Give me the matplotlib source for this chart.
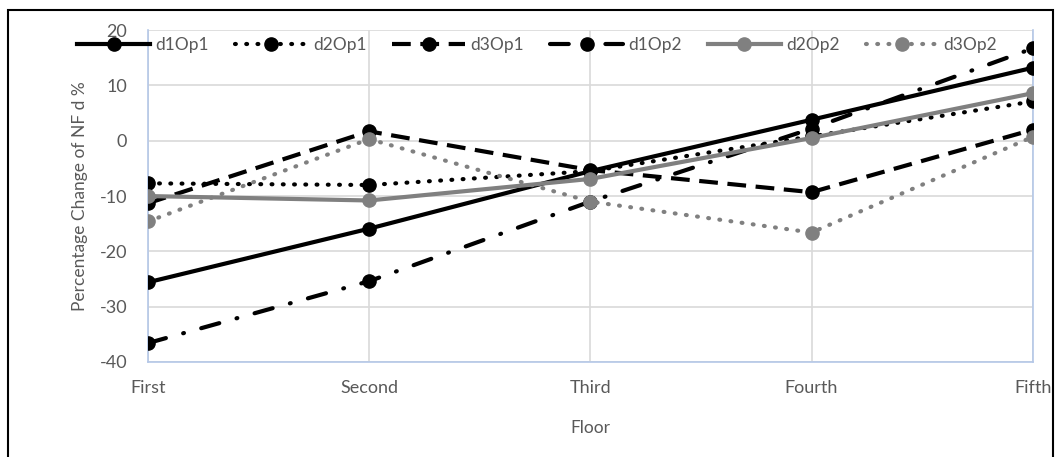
import matplotlib.pyplot as plt
from matplotlib.patches import Rectangle

plt.rcParams['font.family'] = ['Lato', 'DejaVu Sans']
plt.rcParams['axes.unicode_minus'] = False

floors = ['First', 'Second', 'Third', 'Fourth', 'Fifth']
d1Op1 = [-25.6, -15.9, -5.5, 3.8, 13.2]
d2Op1 = [-7.7, -8.0, -5.5, 0.8, 7.1]
d3Op1 = [-11.3, 1.7, -5.3, -9.3, 2.0]
d1Op2 = [-36.6, -25.4, -11.0, 2.2, 16.7]
d2Op2 = [-10.0, -10.8, -6.9, 0.5, 8.6]
d3Op2 = [-14.6, 0.3, -11.0, -16.6, 0.7]

txt = '#595959'
grey = '#808080'

fig = plt.figure(figsize=(10.56, 4.57), dpi=100)
ax = fig.add_axes([0.140, 0.208, 0.838, 0.726])

x = range(len(floors))
ms = 9.5
lw = 3.0
dots = (0, (0.2, 2.5))
ax.plot(x, d1Op1, color='black', lw=lw, ls='-', marker='o', ms=ms, label='d1Op1', zorder=3)
ax.plot(x, d2Op1, color='black', lw=lw, ls=dots, dash_capstyle='round',
        marker='o', ms=ms, label='d2Op1', zorder=3)
ax.plot(x, d3Op1, color='black', lw=lw, ls=(0, (4.5, 2.3)), marker='o', ms=ms, label='d3Op1', zorder=3)
ax.plot(x, d1Op2, color='black', lw=lw, ls=(0, (4.5, 4.3, 0.2, 4.3)), dash_capstyle='round',
        marker='o', ms=ms, label='d1Op2', zorder=3)
ax.plot(x, d2Op2, color=grey, lw=lw, ls='-', marker='o', ms=ms, label='d2Op2', zorder=3)
ax.plot(x, d3Op2, color=grey, lw=lw, ls=dots, dash_capstyle='round',
        marker='o', ms=ms, label='d3Op2', zorder=3)

ax.set_xlim(0, 4)
ax.set_ylim(-40, 20)
ax.set_yticks(range(-40, 21, 10))
ax.set_xticks(list(x))
ax.set_xticklabels(floors)
ax.grid(True, color='#d9d9d9', lw=1.2)
ax.set_axisbelow(True)
ax.tick_params(length=0, labelsize=13, colors=txt)
ax.tick_params(axis='x', pad=13)
ax.tick_params(axis='y', pad=15)
ax.spines['top'].set_visible(False)
for s in ['left', 'bottom', 'right']:
    ax.spines[s].set_color('#b4c7e7')
    ax.spines[s].set_linewidth(1.2)

ax.set_xlabel('Floor', fontsize=12.5, color=txt)
ax.set_ylabel('Percentage Change of NF d %', fontsize=12.5, color=txt)
ax.xaxis.set_label_coords(0.5, -0.175)
ax.yaxis.set_label_coords(-0.068, 0.5)

leg = ax.legend(loc='center', bbox_to_anchor=(0.44, 0.955), ncol=6, frameon=False,
                fontsize=12.5, handlelength=4.2, columnspacing=1.5, handletextpad=0.3)
for t in leg.get_texts():
    t.set_color(txt)

fig.patches.append(Rectangle((8 / 1056, -0.02), 1045 / 1056, 1.02 - 10 / 457,
                             transform=fig.transFigure, fill=False,
                             edgecolor='black', lw=1.5))

fig.savefig('out.png', dpi=100)
